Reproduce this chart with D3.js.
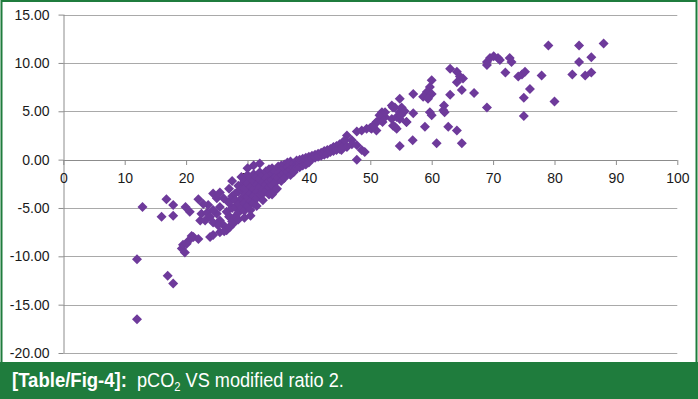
<!DOCTYPE html>
<html>
<head>
<meta charset="utf-8">
<script src="https://cdn.jsdelivr.net/npm/d3@7"></script>
<style>
  html, body { margin: 0; padding: 0; background: #fff; }
  svg { display: block; }
</style>
</head>
<body>
<div id="chart"></div>
<script>
// modified ratio 2 (x) and pCO2 (y)
const ratio = [
  12, 12, 12.9, 16, 16.8, 17.9, 17.9, 17, 17.9, 19.9, 20.6, 22, 19.3, 19.8, 19.5, 20.1, 20.4, 20.9, 21.2, 22,
  23.9, 24.4, 25.5, 26.6, 27.1, 27.7, 22.3, 22.5, 23.1, 23.4, 23.9, 24.4, 25.5, 26.1, 25.2, 23.6, 22.8, 24.4, 25.5, 25,
  26.1, 26.9, 25.5, 25, 24.4, 26.6, 27.1, 28, 28, 26.2,
  27, 27, 27, 27, 27.5, 27.5, 27.5, 27.5, 28, 28, 28, 28, 28.5, 28.5, 28.5, 28.5, 29, 29, 29, 29,
  29, 29.5, 29.5, 29.5, 29.5, 29.5, 30, 30, 30, 30, 30, 30.5, 30.5, 30.5, 30.5, 30.5, 31, 31, 31, 31,
  31, 31.5, 31.5, 31.5, 31.5, 32, 32, 32, 32, 32.5, 32.5, 32.5, 32.5, 33, 33, 33, 33, 33.5, 33.5, 33.5,
  33.5, 34, 34, 34, 34, 34.5, 34.5, 34.5, 34.5, 35, 35, 35, 34.8, 35.5, 35.5, 35.5, 35.5, 36, 36, 36,
  36, 36.5, 36.5, 36.5, 37, 37, 37, 37, 37.5, 37.5, 37.5, 38, 38, 38, 38.5, 38.5, 38.5, 39, 39, 39,
  39.5, 39.5, 39.5, 40, 40, 40, 40.5, 40.5, 41, 41, 41.5, 41.5, 42, 42, 42.5, 42.5, 43, 43, 43.5, 43.5,
  44, 44, 44.5, 44.5, 45, 45, 45.5, 45.5, 46.2, 45.9, 46.2, 45.3, 47, 47, 47.8, 48.6, 49.1, 47.8, 47.8, 48.6,
  49.4, 50.2, 51, 50.8, 51.6, 51.9, 52.4, 50, 50.5, 51, 51.5, 52, 53.5, 54, 54.3, 54.8, 55.1, 53.7, 54.3, 55.9,
  54.8, 54.8, 55.6, 53.5, 54, 55, 63, 64.1, 64.6, 65.1, 64.1, 64.9, 60, 59.7, 59.2, 60, 58.6, 59.4, 57, 54.8,
  53.7, 63, 62, 62.1, 59.7, 60, 57, 55.9, 58.9, 62.7, 64.1, 56.9, 60.8, 64.9, 52.4, 66.9, 69, 69, 69, 69.5,
  70.1, 70.8, 71.1, 72.7, 73, 72, 74.1, 74.7, 75.2, 76, 75, 75, 77.9, 79, 80, 82.9, 84, 84, 85, 86,
  86, 88, 61.9,
  28.5, 29.5, 30.5, 31.5, 32.5, 33.5, 30, 31, 32, 34
];
const pco2 = [
  -10.3, -16.5, -4.9, -5.9, -4.1, -4.7, -5.8, -12.0, -12.8, -4.9, -5.4, -4.1, -9.2, -9.6, -8.8, -8.7, -8.4, -7.9, -8.0, -8.2,
  -8.0, -7.8, -7.5, -7.3, -7.0, -6.6, -6.3, -5.6, -6.3, -5.5, -5.9, -6.5, -6.3, -6.8, -6.8, -4.7, -4.6, -3.5, -3.4, -4.0,
  -4.0, -4.4, -4.9, -5.6, -5.2, -5.4, -5.9, -5.9, -4.9, -7.4,
  -3.0, -4.4, -5.9, -7.0, -2.2, -3.8, -5.0, -6.4, -3.5, -4.2, -4.9, -5.9, -2.7, -3.3, -4.6, -5.5, -1.8, -2.6, -3.1, -4.0,
  -5.0, -2.2, -3.0, -3.7, -4.5, -5.3, -1.6, -2.4, -3.2, -3.9, -4.8, -1.9, -2.8, -3.5, -4.3, -5.2, -1.5, -2.2, -3.0, -3.8,
  -4.5, -1.8, -2.6, -3.3, -4.0, -1.3, -2.0, -2.8, -3.6, -1.6, -2.4, -3.1, -3.5, -1.2, -1.9, -2.6, -3.3, -1.0, -1.6, -2.3,
  -2.9, -0.9, -1.4, -2.1, -2.7, -1.2, -1.8, -2.4, -3.2, -0.7, -1.3, -1.9, -3.0, -0.6, -1.1, -1.6, -2.2, -0.5, -0.9, -1.4,
  -1.9, -0.3, -0.8, -1.3, -0.2, -0.6, -1.1, -1.6, -0.4, -0.9, -1.3, -0.1, -0.5, -0.9, 0.0, -0.4, -0.8, 0.1, -0.3, -0.6,
  0.2, -0.1, -0.5, 0.3, 0.0, -0.3, 0.4, 0.1, 0.5, 0.2, 0.6, 0.3, 0.7, 0.4, 0.9, 0.5, 1.0, 0.6, 1.1, 0.8,
  1.3, 0.9, 1.4, 1.0, 1.6, 1.1, 1.8, 1.3, 2.5, 2.0, 1.3, 1.0, 2.0, 1.6, 1.5, 1.0, 0.8, 0.0, 2.9, 3.0,
  3.2, 3.2, 3.0, 3.7, 4.1, 4.9, 4.4, 3.3, 3.5, 3.9, 4.6, 3.9, 4.2, 5.4, 4.4, 4.9, 5.4, 3.5, 3.2, 3.9,
  4.2, 1.4, 5.0, 5.6, 3.4, 4.6, 9.4, 9.1, 8.6, 8.4, 8.0, 7.2, 8.2, 7.5, 7.0, 6.8, 6.5, 6.3, 6.8, 6.3,
  5.4, 6.7, 5.6, 4.9, 4.9, 4.6, 4.8, 3.9, 3.4, 3.4, 3.0, 2.0, 1.7, 1.7, 4.9, 6.9, 5.4, 10.1, 9.8, 10.5,
  10.7, 10.5, 10.3, 10.5, 10.1, 9.0, 8.6, 8.8, 9.1, 7.3, 6.4, 4.5, 8.7, 11.8, 6.0, 8.8, 11.8, 10.1, 8.7, 9.0,
  10.6, 12.0, 5.1,
  -6.2, -6.0, -5.8, -4.8, -4.2, -3.6, -0.9, -0.6, -0.4, -3.6
];
const xTicks = [0, 10, 20, 30, 40, 50, 60, 70, 80, 90, 100];
const yTicks = [15, 10, 5, 0, -5, -10, -15, -20];

const W = 698, H = 399;
const green = '#1f7c3d';
const purple = '#6e3a9b';

const svg = d3.select('#chart').append('svg')
  .attr('width', W)
  .attr('height', H);

// frame + caption bar
svg.append('rect')
  .attr('x', 1.5).attr('y', 1).attr('width', W - 3).attr('height', 362)
  .attr('fill', '#fff').attr('stroke', green).attr('stroke-width', 2);
svg.append('rect')
  .attr('x', 0).attr('y', 362).attr('width', W).attr('height', H - 362)
  .attr('fill', green);

const x = d3.scaleLinear().domain([0, 100]).range([63.3, 677.3]);
const y = d3.scaleLinear().domain([-20, 15]).range([353, 14.6]);

// horizontal gridlines
svg.append('g')
  .selectAll('line')
  .data(yTicks.filter(d => d !== 0))
  .enter()
  .append('line')
  .attr('x1', x(0)).attr('x2', x(100))
  .attr('y1', d => Math.round(y(d)) + 0.5).attr('y2', d => Math.round(y(d)) + 0.5)
  .attr('stroke', '#a9a9a9');

// excel style labels use a plain hyphen for negatives
const fmt = d => d.toFixed(2);

// y axis
const yAxis = svg.append('g')
  .attr('transform', `translate(${Math.round(x(0)) + 0.5},0)`)
  .call(d3.axisLeft(y).tickValues(yTicks).tickFormat(fmt).tickSize(5).tickPadding(9).offset(0.5));
// x axis sits on y = 0
const xAxis = svg.append('g')
  .attr('transform', `translate(0,${Math.round(y(0))})`)
  .call(d3.axisBottom(x).tickValues(xTicks).tickSize(5).tickPadding(8).offset(0.5));

[yAxis, xAxis].forEach(g => {
  g.select('.domain').attr('stroke', '#8c8c8c');
  g.selectAll('.tick line').attr('stroke', '#8c8c8c');
  g.selectAll('.tick text')
    .attr('fill', '#1a1a1a')
    .attr('font-family', 'Liberation Sans, Arial, sans-serif')
    .attr('font-size', 14);
});
xAxis.select('.domain').attr('d', `M${x(0)},0.5H${x(100)}`);
yAxis.select('.domain').attr('d', `M0.5,${y(15)}V${y(-20)}`);

// diamonds
const pts = ratio.map((r, i) => ({ r, p: pco2[i] }));
svg.append('g')
  .selectAll('path')
  .data(pts)
  .enter()
  .append('path')
  .attr('d', d3.symbol().type(d3.symbolSquare).size(50))
  .attr('transform', d => `translate(${x(d.r)},${y(d.p)}) rotate(45)`)
  .attr('fill', purple);

// caption
const cap1 = svg.append('text')
  .attr('x', 12).attr('y', 387)
  .attr('fill', '#fff')
  .attr('font-family', 'Liberation Sans, Arial, sans-serif')
  .attr('font-weight', 'bold')
  .attr('font-size', 21)
  .text('[Table/Fig-4]:');

const cap2 = svg.append('text')
  .attr('x', 137).attr('y', 387)
  .attr('fill', '#fff')
  .attr('font-family', 'Liberation Sans, Arial, sans-serif')
  .attr('font-size', 21);
cap2.append('tspan').text('pCO');
cap2.append('tspan').attr('font-size', 13).attr('dy', 4).text('2');
cap2.append('tspan').attr('dy', -4).text(' VS modified ratio 2.');

// squeeze to the condensed widths of the original
function fit(t, left, width) {
  const w = t.node().getComputedTextLength();
  t.attr('x', 0).attr('transform', `translate(${left},0) scale(${width / w},1)`);
}
fit(cap1, 12, 115);
fit(cap2, 137, 207);
</script>
</body>
</html>
